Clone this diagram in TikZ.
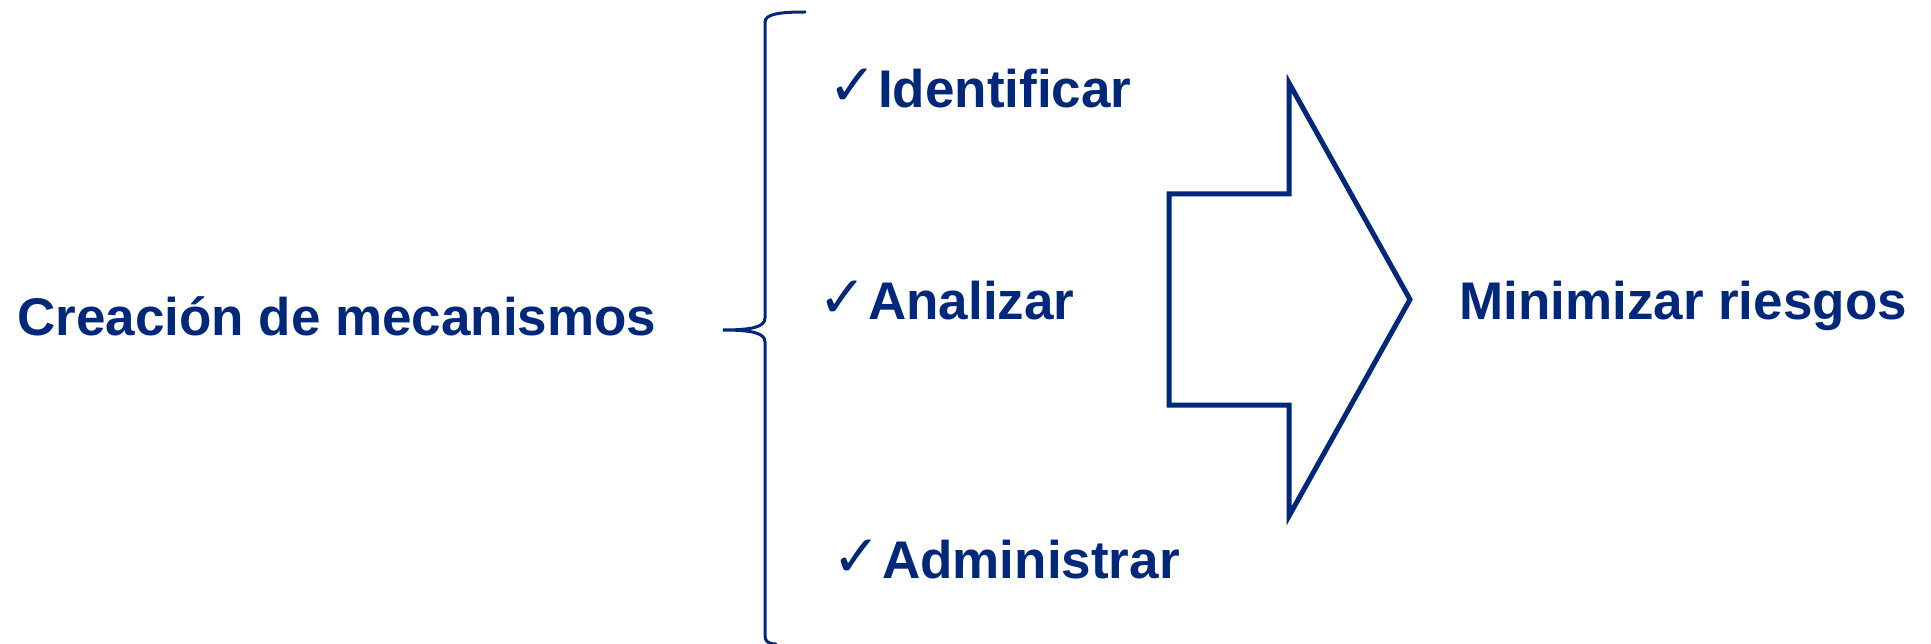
\documentclass[tikz,border=0pt]{standalone}
\usepackage{fontspec}
\setmainfont{Liberation Sans}
\newfontfamily\chkfont{DejaVu Sans}
\definecolor{navy}{RGB}{0,40,122}
\begin{document}
\begin{tikzpicture}[x=1pt,y=-1pt,
  lbl/.style={anchor=base west,inner sep=0pt,text=navy,font=\fontsize{53}{60}\selectfont\bfseries},
  chk/.style={anchor=base east,inner sep=0pt,text=navy,font=\fontsize{58}{64}\chkfont},
  brace/.style={draw=navy,line width=3pt,line cap=round},
  bigarrow/.style={draw=navy,line width=5pt,miter limit=10}]
\useasboundingbox (0,0) rectangle (1931,644);
\fill[white] (0,0) rectangle (1931,644);
% left label
\node[lbl] (creacion) at (17,336) {Creación de mecanismos};
% brace
\coordinate (btop) at (805,12);
\coordinate (btip) at (723,330);
\coordinate (bbot) at (776,644);
\draw[brace] (btop) .. controls (780,12) and (765,14) .. (765,22) -- (765,318)
  .. controls (765,327) and (752,330) .. (btip)
  .. controls (752,330) and (765,333) .. (765,342) -- (765,636)
  .. controls (765,641) and (768,644) .. (bbot);
% items
\node[lbl] (i1) at (878,108) {Identificar};
\node[chk] (c1) at ([xshift=-1pt,yshift=2pt]i1.base west) {✓};
\node[lbl] (i2) at (868,320) {Analizar};
\node[chk] (c2) at ([xshift=-1pt,yshift=2pt]i2.base west) {✓};
\node[lbl] (i3) at (882,578) {Administrar};
\node[chk] (c3) at ([xshift=-1pt,yshift=2pt]i3.base west) {✓};
% block arrow
\coordinate (a1) at (1169,194);
\coordinate (a2) at (1289,194);
\coordinate (a3) at (1289,83);
\coordinate (tip) at (1410,299.5);
\coordinate (a5) at (1289,516);
\coordinate (a6) at (1289,405);
\coordinate (a7) at (1169,405);
\draw[bigarrow] (a1) -- (a2) -- (a3) -- (tip) -- (a5) -- (a6) -- (a7) -- cycle;
% result
\node[lbl] (res) at (1459,320) {Minimizar riesgos};
\end{tikzpicture}
\end{document}
